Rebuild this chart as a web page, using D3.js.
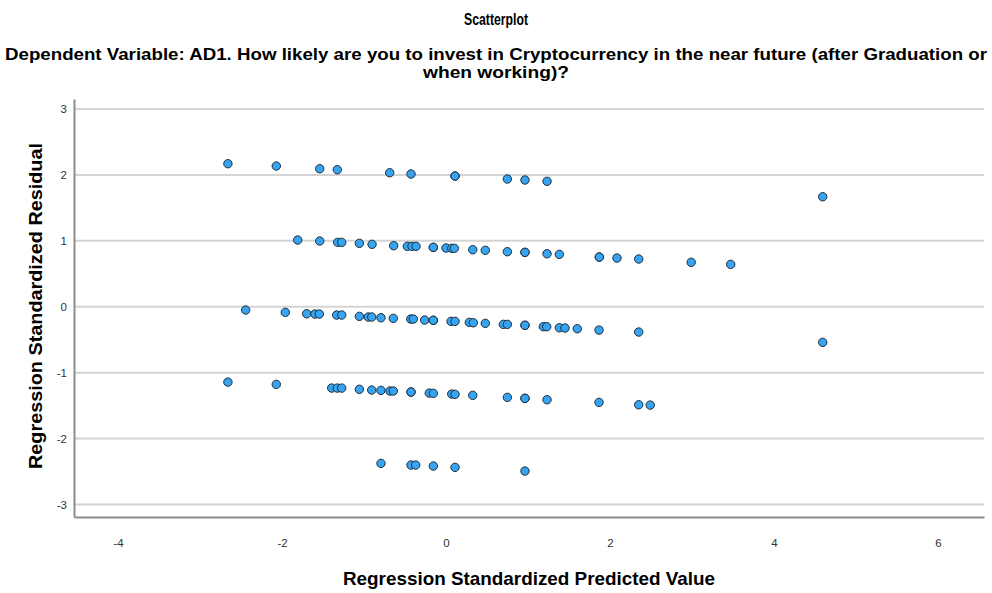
<!DOCTYPE html>
<html>
<head>
<meta charset="utf-8">
<script src="https://cdn.jsdelivr.net/npm/d3@7"></script>
<style>
  body { margin: 0; background: #fff; }
  svg { display: block; font-family: "Liberation Sans", Arial, sans-serif; }
</style>
</head>
<body>
<div id="chart"></div>
<script>
// residual bands (predicted value, residual)
const predicted_2 = [-2.66, -2.07, -1.54, -1.326, -0.687, -0.427, 0.11, 0.11, 0.748, 0.963, 1.232, 4.594]
const residual_2 = [2.17, 2.135, 2.094, 2.079, 2.033, 2.014, 1.983, 1.983, 1.938, 1.923, 1.903, 1.669]

const predicted_1 = [-1.809, -1.54, -1.321, -1.272, -1.057, -0.902, -0.638, -0.472, -0.415, -0.366, -0.155, -0.155, 0, 0.07, 0.101, 0.326, 0.479, 0.748, 0.963, 0.963, 1.232, 1.382, 1.87, 1.87, 2.085, 2.35, 2.99, 3.472]
const residual_1 = [1.012, 0.997, 0.977, 0.977, 0.962, 0.947, 0.926, 0.917, 0.917, 0.917, 0.901, 0.901, 0.891, 0.886, 0.886, 0.865, 0.856, 0.835, 0.825, 0.825, 0.804, 0.795, 0.754, 0.754, 0.739, 0.724, 0.674, 0.643]

const predicted_0 = [-2.443, -1.96, -1.699, -1.598, -1.545, -1.333, -1.272, -1.057, -0.948, -0.906, -0.793, -0.643, -0.43, -0.399, -0.26, -0.155, -0.155, 0.061, 0.11, 0.284, 0.333, 0.479, 0.699, 0.748, 0.963, 0.963, 1.187, 1.228, 1.382, 1.451, 1.601, 1.866, 2.35, 4.594]
const residual_0 = [-0.05, -0.085, -0.106, -0.111, -0.111, -0.126, -0.126, -0.146, -0.156, -0.156, -0.167, -0.176, -0.187, -0.187, -0.202, -0.206, -0.206, -0.222, -0.222, -0.237, -0.243, -0.252, -0.267, -0.267, -0.282, -0.282, -0.303, -0.303, -0.319, -0.323, -0.334, -0.354, -0.384, -0.54]

const predicted_m1 = [-2.66, -2.07, -1.394, -1.326, -1.272, -1.057, -0.906, -0.793, -0.683, -0.643, -0.427, -0.427, -0.204, -0.155, 0.07, 0.11, 0.326, 0.748, 0.963, 0.963, 1.232, 1.866, 2.35, 2.49]
const residual_m1 = [-1.143, -1.178, -1.234, -1.234, -1.234, -1.253, -1.264, -1.269, -1.279, -1.279, -1.294, -1.294, -1.31, -1.314, -1.325, -1.329, -1.344, -1.375, -1.39, -1.39, -1.411, -1.451, -1.487, -1.492]

const predicted_m2 = [-0.793, -0.427, -0.37, -0.155, 0.11, 0.963]
const residual_m2 = [-2.376, -2.402, -2.402, -2.417, -2.437, -2.493]

const x_ticks = [-4, -2, 0, 2, 4, 6]
const y_ticks = [-3, -2, -1, 0, 1, 2, 3]

const title = "Scatterplot"
const subtitle = ["Dependent Variable: AD1. How likely are you to invest in Cryptocurrency in the near future (after Graduation or", "when working)?"]
const x_label = "Regression Standardized Predicted Value"
const y_label = "Regression Standardized Residual"

const W = 992, H = 593
const plot = { left: 74, right: 984, top: 99, bottom: 517 }

const points = []
;[[predicted_2, residual_2], [predicted_1, residual_1], [predicted_0, residual_0],
  [predicted_m1, residual_m1], [predicted_m2, residual_m2]].forEach(([xs, ys]) => {
    xs.forEach((v, i) => points.push({ x: v, y: ys[i] }))
})

const svg = d3.select("#chart").append("svg")
    .attr("width", W)
    .attr("height", H)

const x = d3.scaleLinear().domain([-4.537, 6.561]).range([plot.left, plot.right])
const y = d3.scaleLinear().domain([-3.19, 3.152]).range([plot.bottom, plot.top])

/* TITLES */
svg.append("text")
    .attr("x", 496).attr("y", 25)
    .attr("text-anchor", "middle")
    .attr("textLength", 64)
    .attr("lengthAdjust", "spacingAndGlyphs")
    .style("font-size", "16px").style("font-weight", "bold")
    .text(title)

svg.selectAll(".subtitle")
    .data(subtitle)
    .enter()
    .append("text")
    .attr("class", "subtitle")
    .attr("x", 496)
    .attr("y", (d, i) => 60 + i * 18)
    .attr("text-anchor", "middle")
    .attr("textLength", (d, i) => i === 0 ? 982 : 146)
    .attr("lengthAdjust", "spacingAndGlyphs")
    .style("font-size", "17px").style("font-weight", "bold")
    .text(d => d)

/* GRID LINES */
svg.selectAll(".grid-y")
    .data(y_ticks)
    .enter()
    .append("line")
    .attr("class", "grid-y")
    .attr("x1", plot.left).attr("x2", plot.right)
    .attr("y1", d => y(d)).attr("y2", d => y(d))
    .attr("stroke", "#d4d4d4")
    .attr("stroke-width", 2)

/* AXES */
const y_axis = svg.append("g")
    .attr("transform", `translate(${plot.left},0)`)
    .call(d3.axisLeft(y).tickValues(y_ticks).tickSize(0).tickPadding(7).tickFormat(d => String(d)))
const x_axis = svg.append("g")
    .attr("transform", `translate(0,${plot.bottom})`)
    .call(d3.axisBottom(x).tickValues(x_ticks).tickSize(0).tickPadding(22).tickFormat(d => String(d)))

;[y_axis, x_axis].forEach(a => {
    a.select(".domain").attr("stroke", "#8c8c8c").attr("stroke-width", 2)
    a.selectAll("text").style("font-size", "11.5px").attr("fill", "#333")
})

/* POINTS */
svg.selectAll(".dot")
    .data(points)
    .enter()
    .append("circle")
    .attr("class", "dot")
    .attr("cx", d => x(d.x))
    .attr("cy", d => y(d.y))
    .attr("r", 4.2)
    .attr("fill", "#36a4f1")
    .attr("stroke", "#1e2d3c")
    .attr("stroke-width", 1)

/* AXIS LABELS */
svg.append("text")
    .attr("x", 529).attr("y", 585)
    .attr("text-anchor", "middle")
    .attr("textLength", 372)
    .attr("lengthAdjust", "spacingAndGlyphs")
    .style("font-size", "19px").style("font-weight", "bold")
    .text(x_label)

svg.append("text")
    .attr("transform", `translate(42,${(plot.top + plot.bottom) / 2 - 2}) rotate(-90)`)
    .attr("text-anchor", "middle")
    .attr("textLength", 326)
    .attr("lengthAdjust", "spacingAndGlyphs")
    .style("font-size", "19px").style("font-weight", "bold")
    .text(y_label)
</script>
</body>
</html>
